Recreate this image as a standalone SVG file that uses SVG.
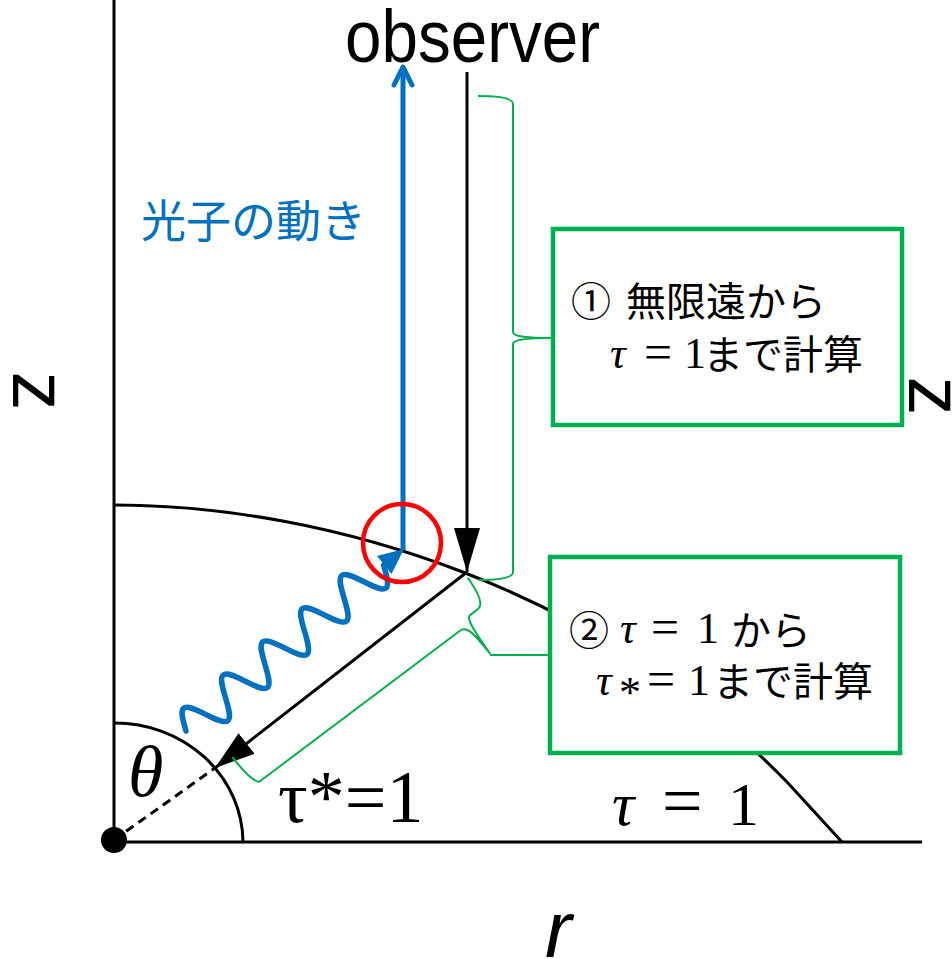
<svg xmlns="http://www.w3.org/2000/svg" width="952" height="959" viewBox="0 0 952 959">
<style>
.ax{stroke:#000;stroke-width:3;fill:none}
.gr{stroke:#00B050;stroke-width:2;fill:none}
.box{stroke:#00B050;stroke-width:4.5;fill:#fff}
.jp{font-family:"Noto Sans CJK JP","Noto Sans",sans-serif;font-size:40px;fill:#000}
.m{font-family:"Liberation Serif","DejaVu Serif",serif;font-size:44px;fill:#000}
.eq{font-family:"Liberation Serif","DejaVu Serif",serif;font-size:50px;fill:#000}
.it{font-style:italic}
</style>
<defs>
<marker id="ah" markerUnits="userSpaceOnUse" markerWidth="48" markerHeight="28" refX="44" refY="13" orient="auto">
<path d="M0,0 L44,13 L0,26 z" fill="#000"/>
</marker>
<marker id="ah2" markerUnits="userSpaceOnUse" markerWidth="44" markerHeight="28" refX="40" refY="13" orient="auto">
<path d="M0,0 L40,13 L0,26 z" fill="#000"/>
</marker>
</defs>
<g id="axes">
<line class="ax" x1="114" y1="0" x2="114" y2="842"/>
<line class="ax" x1="114" y1="842" x2="922" y2="842"/>
<circle cx="114" cy="840" r="13" fill="#000"/>
</g>
<g id="tau1-surface">
<path class="ax" d="M114,505 C330,505 600,590 787,782 L842,842"/>
</g>
<g id="tau-star-surface">
<path class="ax" d="M114,723 A128,120 0 0 1 243,842"/>
<line x1="114" y1="840" x2="215" y2="768" stroke="#000" stroke-width="3" stroke-dasharray="9,6"/>
</g>
<g id="connectors">
<line class="ax" x1="467" y1="72" x2="467" y2="572" marker-end="url(#ah)"/>
<line class="ax" x1="467" y1="572" x2="215" y2="768" marker-end="url(#ah2)"/>
<line x1="403" y1="550" x2="403" y2="68" stroke="#0070C0" stroke-width="5"/>
<polyline points="394,85 403,67 412,85" fill="none" stroke="#0070C0" stroke-width="5" stroke-linecap="round" stroke-linejoin="round"/>
<g transform="translate(186,731) rotate(-40)">
<path fill="none" stroke="#0070C0" stroke-width="5.5" stroke-linecap="round" d="M0,0 c4.21,-9.73 8.21,-19 12.9,-19 s8.69,9.27 12.9,19 s8.21,19 12.9,19 s8.69,-9.27 12.9,-19 s8.21,-19 12.9,-19 s8.69,9.27 12.9,19 s8.21,19 12.9,19 s8.69,-9.27 12.9,-19 s8.21,-19 12.9,-19 s8.69,9.27 12.9,19 s8.21,19 12.9,19 s8.69,-9.27 12.9,-19 s8.21,-19 12.9,-19 s8.69,9.27 12.9,19 s8.21,19 12.9,19 s8.69,-9.27 12.9,-19 s8.21,-19 12.9,-19 s8.69,9.27 12.9,19 s8.21,19 12.9,19 s8.69,-9.27 12.9,-19"/>
</g>
<polygon points="404,549 391.5,574 377,556" fill="#0070C0"/>
<circle cx="402" cy="543" r="39" fill="none" stroke="#FF0000" stroke-width="4.5"/>
<path class="gr" d="M478,96 C500,96 513,98 513,104 L513,332 C513,337 530,338 552,338 C530,338 513,339 513,344 L513,572 C513,578 500,580 478,580"/>
<g transform="matrix(-0.789,0.614,0.614,0.789,467,572)">
<path class="gr" d="M3,5 C4,28 8,36 14,36 L24,36 C28,36 30,40 32,79 M32,79 C32,46 35,42 42,42 L292,38 C296,38 299,24 299,2"/>
</g>
<polyline class="gr" points="490,655 550,655"/>
</g>
<g id="box1">
<rect class="box" x="553" y="229" width="349" height="196"/>
<text class="jp" x="571" y="316">①</text>
<text class="jp" x="626" y="316">無限遠から</text>
<text class="m it" x="610" y="368">τ</text>
<text class="eq" x="644" y="369">=</text>
<text class="m" x="684" y="368">1</text>
<text class="jp" x="703" y="369">まで計算</text>
</g>
<g id="box2">
<rect class="box" x="550" y="557" width="350" height="196"/>
<text class="jp" x="569" y="645">②</text>
<text class="m it" x="620" y="643">τ</text>
<text class="eq" x="651" y="644">=</text>
<text class="m" x="697" y="643">1</text>
<text class="jp" x="731" y="645">から</text>
<text class="m it" x="596" y="695">τ</text>
<text class="m" x="619" y="707" font-size="24">*</text>
<text class="eq" x="647" y="696">=</text>
<text class="m" x="688" y="695">1</text>
<text class="jp" x="713" y="696">まで計算</text>
</g>
<g id="labels">
<text x="345" y="62" font-family="Liberation Sans,Arial,sans-serif" font-size="75" textLength="255" lengthAdjust="spacingAndGlyphs">observer</text>
<text x="141" y="238" font-family="Noto Sans CJK JP,Noto Sans,sans-serif" font-size="45" fill="#0070C0">光子の動き</text>
<text transform="translate(33,391) rotate(90)" x="0" y="20" text-anchor="middle" font-family="Liberation Sans,Arial,sans-serif" font-size="78">z</text>
<text transform="translate(929,396) rotate(90)" x="0" y="20" text-anchor="middle" font-family="Liberation Sans,Arial,sans-serif" font-size="78">z</text>
<text x="128" y="796" font-family="Liberation Serif,Times New Roman,serif" font-style="italic" font-size="72">θ</text>
<text x="278" y="822" font-family="Liberation Serif,Times New Roman,serif" font-size="74">τ*=1</text>
<text x="612" y="825" font-family="Liberation Serif,Times New Roman,serif" font-style="italic" font-size="62">τ</text>
<text x="662" y="825" font-family="Liberation Serif,Times New Roman,serif" font-size="72">=</text>
<text x="728" y="825" font-family="Liberation Serif,Times New Roman,serif" font-size="62">1</text>
<text x="545" y="957" font-family="Liberation Sans,Arial,sans-serif" font-style="italic" font-size="80">r</text>
</g>
</svg>
